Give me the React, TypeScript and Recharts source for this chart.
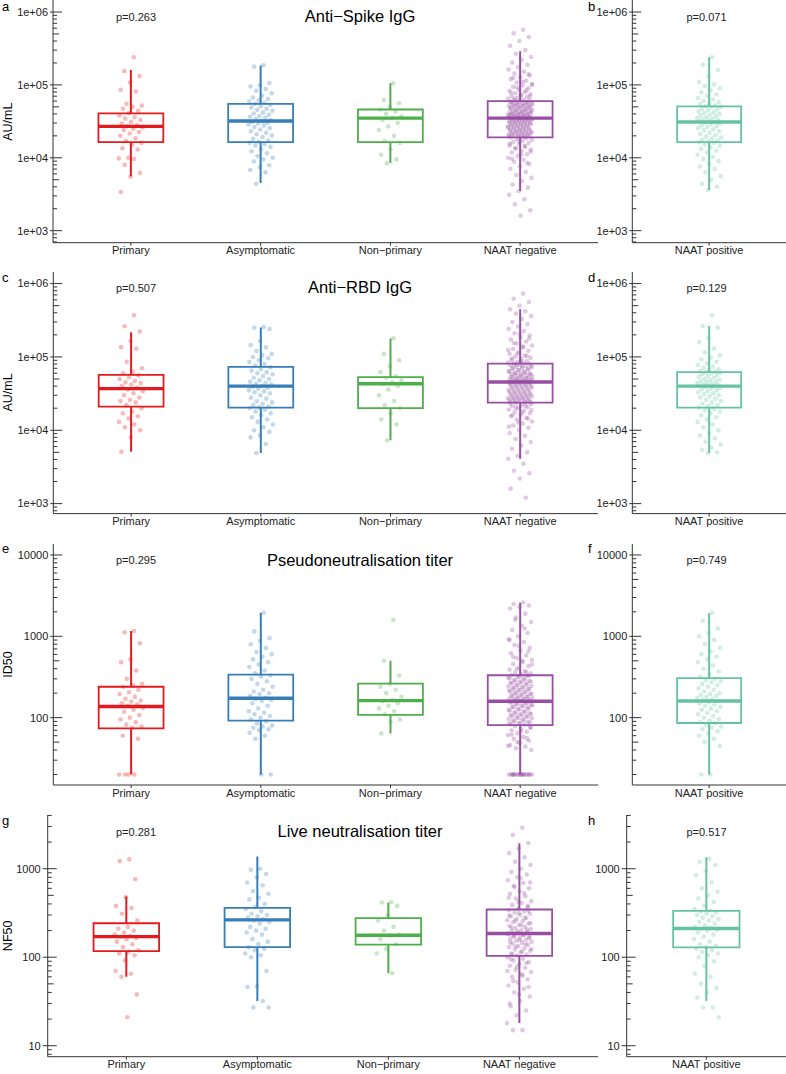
import React from "react";
import { ComposedChart, Line, Scatter, XAxis, YAxis } from "recharts";

const FONT = '"Liberation Sans", Arial, Helvetica, sans-serif';

const leftGroups = ["Primary", "Asymptomatic", "Non\u2212primary", "NAAT negative"];
const rightGroups = ["NAAT positive"];
const leftColors = ["#E41A1C", "#377EB8", "#4DAF4A", "#984EA3"];
const rightColors = ["#66C2A5"];

const titles = ["Anti\u2212Spike IgG", "Anti\u2212RBD IgG", "Pseudoneutralisation titer", "Live neutralisation titer"];
const yTitles = ["AU/mL", "AU/mL", "ID50", "NF50"];
const leftPValues = ["p=0.263", "p=0.507", "p=0.295", "p=0.281"];
const rightPValues = ["p=0.071", "p=0.129", "p=0.749", "p=0.517"];

// box stats per group: [lower whisker, Q1, median, Q3, upper whisker]
const spikeBoxes = [
  [5.6e3, 16.4e3, 27e3, 40.6e3, 160e3],
  [4.5e3, 16.4e3, 32e3, 55e3, 185e3],
  [8.5e3, 16.4e3, 35e3, 46e3, 105e3],
  [3.5e3, 19e3, 35e3, 60e3, 290e3],
];
const spikePosBoxes = [[3.6e3, 16.4e3, 31e3, 50.7e3, 240e3]];

const rbdBoxes = [
  [5.1e3, 21e3, 37e3, 57e3, 217e3],
  [4.9e3, 20.4e3, 40e3, 73e3, 251e3],
  [7.3e3, 20e3, 43e3, 53e3, 178e3],
  [4.1e3, 23.8e3, 45.6e3, 81e3, 447e3],
];
const rbdPosBoxes = [[4.9e3, 20.4e3, 40e3, 62e3, 265e3]];

const pseudoBoxes = [
  [20, 74, 137, 240, 1160],
  [20, 92, 173, 338, 1950],
  [64, 108, 162, 262, 502],
  [20, 81, 159, 332, 2594],
];
const pseudoPosBoxes = [[20, 86, 160, 307, 1918]];

const liveBoxes = [
  [60, 117, 171, 242, 485],
  [32, 130, 264, 361, 1372],
  [66, 139, 177, 276, 415],
  [18, 103.5, 185, 346, 1941],
];
const livePosBoxes = [[32, 129, 211, 334, 1349]];

// individual values (AU/mL, ID50, NF50)
const spikePrimary = [240e3, 155e3, 132e3, 108e3, 86e3, 81e3, 55e3, 52e3, 50e3, 47e3, 44e3, 41e3, 38e3, 36e3, 34.5e3, 33e3, 31e3, 29.5e3, 28e3, 27e3, 26e3, 25e3, 24e3, 22.5e3, 21.5e3, 20e3, 18.5e3, 17e3, 16e3, 15e3, 13.5e3, 13e3, 10e3, 9.8e3, 9.6e3, 8e3, 6.2e3, 5.5e3, 3.4e3];
const spikeAsym = [186e3, 178e3, 106e3, 99e3, 95e3, 88e3, 83e3, 77e3, 71e3, 67e3, 64e3, 61e3, 59e3, 57e3, 55e3, 53e3, 51e3, 49e3, 47e3, 45.5e3, 44e3, 42e3, 40.5e3, 39e3, 37.5e3, 36.5e3, 35.5e3, 34e3, 33e3, 32e3, 31e3, 30.3e3, 29.6e3, 28.7e3, 27.8e3, 26.5e3, 25.5e3, 24.4e3, 23.2e3, 22e3, 21e3, 20.2e3, 19.3e3, 18.2e3, 17.3e3, 16.6e3, 16e3, 15.3e3, 14.8e3, 14.1e3, 13.2e3, 12.3e3, 11.5e3, 10.6e3, 10e3, 9.5e3, 8.9e3, 7.9e3, 7.4e3, 6.8e3, 6.3e3, 4.4e3];
const spikeNonPrim = [105e3, 62e3, 56e3, 50e3, 46e3, 43e3, 40e3, 37e3, 35e3, 33e3, 30e3, 27e3, 24e3, 20e3, 17e3, 16e3, 13e3, 11e3, 9.5e3, 8.4e3];
const spikeNaatNeg = [
  570e3, 510e3, 455e3, 400e3, 345e3, 300e3, 268e3, 242e3, 221e3, 203e3, 188e3, 175e3, 163e3, 152e3, 143e3, 135e3, 127e3, 120e3, 114e3, 108e3, 103e3, 98e3, 94e3, 90e3, 86e3, 83e3, 80e3, 77e3, 74.5e3, 72e3, 70e3, 68e3, 66e3, 64.5e3, 63e3, 61.5e3, 60.5e3,
  59.5e3, 58.8e3, 58e3, 57e3, 56.2e3, 55.5e3, 54.5e3, 53.6e3, 53e3, 52e3, 51e3, 50.3e3, 49.5e3, 48.5e3, 47.5e3, 47e3, 46.5e3, 45.5e3, 44.5e3, 44e3, 43.5e3, 42.7e3, 42e3, 41.6e3, 41.2e3, 40.5e3, 39.8e3, 39.1e3, 38.5e3, 38.2e3, 37.9e3, 37.3e3, 36.8e3, 36.2e3, 35.9e3, 35.7e3, 35.2e3,
  34.7e3, 34.2e3, 33.6e3, 33e3, 32.5e3, 32e3, 31.4e3, 30.8e3, 30.2e3, 29.7e3, 29.1e3, 28.5e3, 28e3, 27.4e3, 26.9e3, 26.3e3, 25.8e3, 25.2e3, 24.7e3, 24.2e3, 23.7e3, 23.2e3, 22.7e3, 22.3e3, 21.8e3, 21.4e3, 21e3, 20.6e3, 20.2e3, 19.9e3, 19.6e3, 19.3e3, 19.1e3,
  18.6e3, 18.1e3, 17.5e3, 17e3, 16.4e3, 15.9e3, 15.3e3, 14.8e3, 14.2e3, 13.6e3, 13e3, 12.4e3, 11.8e3, 11.2e3, 10.6e3, 10e3, 9.4e3, 8.8e3, 8.2e3, 7.6e3, 7e3, 6.4e3, 5.8e3, 5.3e3, 4.8e3, 4.3e3, 3.9e3, 3.5e3, 3.1e3, 2.7e3, 2.3e3, 1.9e3, 1.6e3,
  58.2e3, 56.8e3, 55e3, 54e3, 52.6e3, 51.5e3, 50e3, 49e3, 48e3, 46e3, 45e3, 43e3, 42.3e3, 40.8e3, 40e3, 39.4e3, 38.8e3, 37.6e3, 37e3, 36.5e3, 35.5e3, 35e3, 34.5e3, 33.9e3, 33.3e3, 32.8e3, 32.2e3, 31.7e3, 31e3, 30.5e3, 29.9e3, 29.4e3, 28.8e3, 28.2e3, 27.7e3,
  27.1e3, 26.6e3, 26e3, 25.5e3, 25e3, 24.4e3, 23.9e3, 23.4e3, 22.9e3, 22.5e3, 22e3, 21.6e3, 21.2e3, 20.8e3, 20.4e3, 20e3, 19.5e3, 65e3, 69e3, 73e3, 78e3, 84e3, 92e3, 100e3, 110e3, 125e3, 140e3, 16.8e3, 15.6e3, 14.5e3, 13.3e3, 12.1e3, 11e3, 9.7e3, 8.5e3,
];
const spikeNaatPos = [
  240e3, 190e3, 160e3, 130e3, 110e3, 102e3, 96e3, 90e3, 84e3, 79e3, 74e3, 70e3, 66e3, 63e3, 60e3, 58e3, 56e3, 54e3, 52e3, 51e3,
  50e3, 49e3, 47e3, 46e3, 44.5e3, 43e3, 42e3, 41e3, 40e3, 39e3, 38e3, 37e3, 36e3, 35e3, 34.2e3, 33.5e3, 33e3, 32.3e3, 31.6e3, 31e3,
  30.4e3, 29.6e3, 29e3, 28e3, 27.2e3, 26.4e3, 25.5e3, 24.6e3, 23.8e3, 23e3, 22e3, 21.2e3, 20.4e3, 19.6e3, 19e3, 18.3e3, 17.8e3, 17.2e3, 16.8e3, 16.4e3,
  16e3, 15.3e3, 14.6e3, 14e3, 13.2e3, 12.5e3, 11.8e3, 11e3, 10.3e3, 9.6e3, 9e3, 8.3e3, 7.6e3, 7e3, 6.3e3, 5.6e3, 5e3, 4.4e3, 4e3, 3.6e3,
];

const rbdPrimary = [370e3, 262e3, 222e3, 165e3, 136e3, 130e3, 86e3, 70e3, 63e3, 60e3, 56e3, 53e3, 50e3, 47e3, 45e3, 44e3, 42e3, 40e3, 38e3, 36e3, 34e3, 32e3, 30e3, 28e3, 26e3, 25e3, 24e3, 22e3, 20e3, 18e3, 17e3, 15.5e3, 14.5e3, 13e3, 12e3, 11e3, 10e3, 8e3, 5.1e3];
const rbdAsym = [255e3, 250e3, 240e3, 165e3, 145e3, 135e3, 120e3, 110e3, 105e3, 100e3, 96e3, 90e3, 85e3, 80e3, 76e3, 72e3, 68e3, 65e3, 62e3, 60e3, 58e3, 55e3, 52e3, 50e3, 48e3, 46e3, 44e3, 43e3, 42e3, 40e3, 39e3, 38e3, 37e3, 35e3, 34e3, 33e3, 32e3, 30e3, 28e3, 27e3, 25e3, 24e3, 23e3, 22e3, 21e3, 20.5e3, 20e3, 19e3, 18e3, 17e3, 16e3, 15e3, 14e3, 13e3, 12e3, 11e3, 10e3, 9.5e3, 8.5e3, 8e3, 6.5e3, 4.9e3];
const rbdNonPrim = [180e3, 110e3, 90e3, 75e3, 62e3, 55e3, 52e3, 48e3, 45e3, 43e3, 40e3, 36e3, 30e3, 25e3, 22e3, 20e3, 17e3, 14e3, 12e3, 7.3e3];
const rbdNaatNeg = [
  730e3, 620e3, 560e3, 500e3, 447e3, 420e3, 390e3, 360e3, 330e3, 300e3, 280e3, 260e3, 240e3, 225e3, 210e3, 196e3, 184e3, 172e3, 162e3, 152e3, 143e3, 135e3, 128e3, 121e3, 115e3, 110e3, 105e3, 101e3, 97e3, 94e3, 91e3, 88e3, 86e3, 84e3, 82.5e3, 81e3,
  80e3, 78.5e3, 77e3, 75e3, 73.5e3, 72e3, 70e3, 68.5e3, 67e3, 65.5e3, 64e3, 62.5e3, 61e3, 60e3, 59e3, 58e3, 57e3, 56e3, 55e3, 54e3, 53e3, 52e3, 51e3, 50.3e3, 49.6e3, 49e3, 48.4e3, 47.8e3, 47.2e3, 46.7e3, 46.2e3, 45.8e3,
  45e3, 44e3, 43e3, 42e3, 41e3, 40e3, 39e3, 38e3, 37e3, 36e3, 35e3, 34e3, 33.2e3, 32.4e3, 31.6e3, 30.8e3, 30e3, 29.3e3, 28.6e3, 28e3, 27.4e3, 26.8e3, 26.2e3, 25.6e3, 25e3, 24.5e3, 24e3,
  23.3e3, 22.6e3, 22e3, 21.3e3, 20.6e3, 20e3, 19.2e3, 18.5e3, 17.8e3, 17e3, 16.3e3, 15.6e3, 14.8e3, 14e3, 13.2e3, 12.4e3, 11.6e3, 10.8e3, 10e3, 9.2e3, 8.4e3, 7.6e3, 6.9e3, 6.2e3, 5.6e3, 5e3, 4.5e3, 4.1e3, 3.5e3, 2.8e3, 2.6e3, 2.2e3, 1.6e3, 1.2e3,
  79e3, 76e3, 74e3, 71e3, 69e3, 66e3, 63e3, 61.5e3, 59.5e3, 57.5e3, 55.5e3, 53.5e3, 51.5e3, 50e3, 48.8e3, 47.5e3, 46.4e3, 45.4e3, 44.5e3, 43.5e3, 42.5e3, 41.5e3, 40.5e3, 39.5e3, 38.5e3, 37.5e3, 36.5e3, 35.5e3, 34.5e3, 33.6e3, 32.8e3,
  32e3, 31.2e3, 30.4e3, 29.6e3, 29e3, 28.3e3, 27.7e3, 27.1e3, 26.5e3, 25.9e3, 25.3e3, 24.8e3, 24.2e3, 88e3, 95e3, 103e3, 112e3, 124e3, 138e3, 155e3, 178e3, 205e3, 23e3, 21.6e3, 20.3e3, 18.9e3, 17.4e3, 16e3, 14.4e3, 12.8e3, 11.2e3,
];
const rbdNaatPos = [
  370e3, 265e3, 250e3, 180e3, 160e3, 130e3, 115e3, 105e3, 98e3, 92e3, 86e3, 82e3, 78e3, 74e3, 71e3, 68e3, 66e3, 64e3, 63e3, 62e3,
  61e3, 59.5e3, 58e3, 56.5e3, 55e3, 53.5e3, 52e3, 50.5e3, 49e3, 48e3, 47e3, 46e3, 45e3, 44e3, 43e3, 42.2e3, 41.5e3, 41e3, 40.5e3, 40e3,
  39e3, 38e3, 37e3, 36e3, 35e3, 34e3, 33e3, 32e3, 31e3, 30e3, 29e3, 28e3, 27e3, 26e3, 25e3, 24e3, 23e3, 22e3, 21.2e3, 20.4e3,
  19.6e3, 18.8e3, 18e3, 17e3, 16e3, 15e3, 14e3, 13e3, 12e3, 11e3, 10e3, 9.2e3, 8.5e3, 7.8e3, 7e3, 6.4e3, 5.8e3, 5.4e3, 5e3, 4.9e3,
];

const pseudoPrimary = [1160, 1120, 820, 520, 480, 380, 300, 260, 250, 240, 220, 205, 195, 180, 170, 162, 158, 150, 145, 140, 132, 125, 118, 108, 100, 95, 88, 82, 78, 75, 60, 55, 20, 20, 20, 20];
const pseudoAsym = [1950, 1150, 950, 880, 800, 720, 640, 600, 560, 520, 480, 450, 420, 380, 350, 330, 320, 300, 280, 260, 240, 220, 210, 200, 195, 185, 175, 170, 165, 160, 150, 140, 130, 120, 115, 110, 105, 100, 95, 90, 85, 80, 78, 75, 72, 70, 65, 60, 55, 20, 20];
const pseudoNonPrim = [1600, 500, 330, 260, 240, 220, 200, 180, 165, 160, 150, 140, 130, 120, 110, 95, 88, 64];
const pseudoNaatNeg = [
  2600, 2500, 2400, 2300, 2200, 1900, 1700, 1500, 1350, 1200, 1100, 1000, 920, 850, 780, 720, 670, 620, 580, 540, 510, 480, 455, 430, 410, 390, 375, 360, 350, 340, 335,
  330, 320, 310, 300, 290, 282, 275, 268, 260, 252, 245, 238, 232, 226, 220, 214, 208, 202, 197, 192, 187, 182, 178, 174, 170, 166, 163, 160,
  156, 152, 148, 144, 140, 136, 132, 128, 124, 120, 116, 113, 110, 107, 104, 101, 98, 95, 92, 89, 86, 84, 82,
  79, 76, 73, 70, 67, 64, 61, 58, 55, 52, 49, 46, 44, 42, 40, 20, 20, 20, 20, 20, 20, 20, 20, 20, 20, 20, 20, 20, 20, 20,
  325, 315, 305, 295, 285, 278, 271, 264, 256, 249, 242, 235, 229, 223, 217, 211, 205, 200, 195, 190, 185, 180, 176, 172, 168, 164, 161, 158, 154, 150, 146, 142, 138,
  134, 130, 126, 122, 118, 114, 111, 108, 105, 102, 99, 96, 93, 90, 87, 85, 83, 360, 400, 450, 500, 560, 650, 760, 900, 1250, 1600, 75, 68, 62, 56, 50, 45, 20, 20, 20, 20,
];
const pseudoNaatPos = [1950, 1550, 1250, 1100, 1000, 900, 800, 720, 650, 600, 560, 520, 480, 440, 400, 370, 340, 320, 300, 290, 280, 270, 260, 250, 240, 230, 220, 210, 200, 195, 190, 185, 180, 175, 170, 165, 160, 155, 150, 145, 140, 135, 130, 125, 120, 115, 110, 105, 100, 96, 92, 88, 85, 82, 78, 75, 72, 68, 64, 60, 55, 50, 45, 20, 20];

const livePrimary = [1280, 1220, 760, 480, 380, 360, 310, 260, 220, 210, 200, 190, 180, 175, 170, 165, 160, 150, 140, 130, 120, 115, 110, 105, 92, 70, 65, 60, 38, 21];
const liveAsym = [1000, 970, 870, 800, 700, 650, 560, 520, 470, 450, 400, 370, 350, 330, 310, 300, 290, 280, 270, 260, 250, 240, 220, 210, 200, 190, 180, 160, 150, 140, 130, 125, 120, 110, 105, 100, 70, 47, 46, 32, 27, 27];
const liveNonPrim = [420, 415, 380, 300, 260, 220, 200, 180, 175, 160, 140, 125, 110, 66];
const liveNaatNeg = [
  2900, 2400, 1950, 1700, 1500, 1350, 1200, 1100, 1000, 920, 860, 800, 740, 690, 640, 600, 560, 520, 490, 460, 430, 410, 390, 370, 355,
  340, 330, 320, 310, 300, 290, 280, 270, 262, 255, 248, 240, 233, 226, 220, 214, 208, 202, 197, 192, 188,
  182, 178, 174, 170, 166, 162, 158, 154, 150, 146, 142, 138, 134, 130, 126, 122, 118, 114, 110, 107, 104,
  100, 96, 92, 88, 84, 80, 76, 72, 68, 64, 60, 56, 52, 48, 44, 40, 36, 32, 28, 25, 22, 18, 15, 15,
  335, 315, 295, 276, 259, 244, 230, 217, 205, 195, 186, 180, 172, 164, 156, 148, 140, 132, 124, 116, 108, 380, 420, 470, 530, 620, 700, 780, 95, 86, 78, 70, 62, 54, 46, 38, 30,
];
const liveNaatPos = [1300, 1200, 1100, 950, 850, 700, 600, 550, 500, 460, 420, 380, 350, 340, 330, 320, 310, 300, 290, 280, 270, 260, 250, 240, 230, 220, 215, 210, 205, 200, 190, 180, 170, 160, 150, 140, 135, 130, 125, 120, 115, 110, 105, 100, 90, 80, 65, 60, 50, 45, 40, 35, 27, 27, 21];

const sci = (v: number) => `1e+${String(Math.round(Math.log10(v))).padStart(2, "0")}`;
const plain = (v: number) => String(v);

// horizontal spread of the points inside a group (golden-ratio sequence, in category units)
const jitter = (i: number) => ((((i + 1) * 0.6180339887) % 1) - 0.5) * 0.19;

function logTicks([min, max]: [number, number]) {
  const out: number[] = [];
  for (let e = Math.floor(Math.log10(min)); e <= Math.ceil(Math.log10(max)); e++) {
    for (let m = 1; m <= 9; m++) {
      const v = m * Math.pow(10, e);
      if (v >= min && v <= max) out.push(v);
    }
  }
  return out;
}

type PanelProps = {
  chartLeft: number;
  plotLeft: number;
  plotRight: number;
  plotTop: number;
  plotBottom: number;
  names: string[];
  colors: string[];
  boxes: number[][];
  points: number[][];
  domain: [number, number];
  fmt: (v: number) => string;
  gap: number;
  outer: number;
};

function Panel(p: PanelProps) {
  const mt = 6;
  const xh = 24;
  const width = p.plotRight - p.chartLeft;
  const height = p.plotBottom - p.plotTop + mt + xh;
  const n = p.names.length;
  const ticks = logTicks(p.domain);

  const renderTick = (props: any) => {
    const { x, y, payload } = props;
    const v = payload.value as number;
    const e = Math.floor(Math.log10(v) + 1e-9);
    const m = Math.round(v / Math.pow(10, e));
    const major = m === 1;
    const inner = major ? 9 : m === 5 ? 6 : 4;
    return (
      <g>
        <line x1={major ? x - p.outer : x} x2={x + inner} y1={y} y2={y} stroke="#333" strokeWidth={1} />
        {major && (
          <text x={x - p.gap} y={y} dy="0.35em" textAnchor="end" fontSize={11} fill="#222">
            {p.fmt(v)}
          </text>
        )}
      </g>
    );
  };

  return (
    <div style={{ position: "absolute", left: p.chartLeft, top: p.plotTop - mt }}>
      <ComposedChart width={width} height={height} margin={{ top: mt, right: 0, bottom: 0, left: 0 }}>
        <XAxis
          type="number"
          dataKey="x"
          domain={[0.4, n + 0.6]}
          allowDataOverflow
          ticks={p.names.map((_, i) => i + 1)}
          tickFormatter={(v: number) => p.names[Math.round(v) - 1] ?? ""}
          interval={0}
          height={xh}
          tickSize={3}
          tickMargin={1}
          stroke="#333"
          tick={{ fontSize: 11, fill: "#222" }}
        />
        <YAxis
          type="number"
          dataKey="y"
          scale="log"
          domain={p.domain}
          allowDataOverflow
          ticks={ticks}
          interval={0}
          width={p.plotLeft - p.chartLeft}
          tickSize={0}
          tickMargin={0}
          tickLine={false}
          stroke="#333"
          tick={renderTick}
        />
        {p.points.map((vals, gi) => (
          <Scatter
            key={`pts-${gi}`}
            data={vals.map((v, i) => ({ x: gi + 1 + jitter(i), y: v }))}
            dataKey="y"
            isAnimationActive={false}
            shape={(s: any) => <circle cx={s.cx} cy={s.cy} r={2.3} fill={p.colors[gi]} fillOpacity={0.3} />}
          />
        ))}
        {p.boxes.map(([lo, q1, md, q3, hi], gi) => {
          const c = gi + 1;
          const hw = 0.25;
          const rect = [
            { x: c - hw, y: q1 },
            { x: c + hw, y: q1 },
            { x: c + hw, y: q3 },
            { x: c - hw, y: q3 },
            { x: c - hw, y: q1 },
          ];
          const whisk = [
            { x: c, y: lo },
            { x: c, y: q1 },
            { x: c, y: null },
            { x: c, y: q3 },
            { x: c, y: hi },
          ];
          const med = [
            { x: c - hw, y: md },
            { x: c + hw, y: md },
          ];
          return [
            <Line key={`w-${gi}`} data={whisk} dataKey="y" stroke={p.colors[gi]} strokeWidth={2} dot={false} activeDot={false} isAnimationActive={false} />,
            <Line key={`b-${gi}`} data={rect} dataKey="y" stroke={p.colors[gi]} strokeWidth={1.8} strokeLinecap="square" dot={false} activeDot={false} isAnimationActive={false} />,
            <Line key={`m-${gi}`} data={med} dataKey="y" stroke={p.colors[gi]} strokeWidth={3.4} dot={false} activeDot={false} isAnimationActive={false} />,
          ];
        })}
      </ComposedChart>
    </div>
  );
}

const rows = [
  {
    top: 0.3, bottom: 243, axisL: 53, axisR: 632.3, domain: [Math.pow(10, 2.835), Math.pow(10, 6.165)] as [number, number], fmt: sci, gap: 5, outer: 3,
    boxes: spikeBoxes, posBoxes: spikePosBoxes, points: [spikePrimary, spikeAsym, spikeNonPrim, spikeNaatNeg], pos: [spikeNaatPos],
    letters: ["a", "b"], letterY: 11, titleY: 22, pY: 20.5, yTitleX: 12,
  },
  {
    top: 271.7, bottom: 513.3, axisL: 53.3, axisR: 632.3, domain: [Math.pow(10, 2.864), Math.pow(10, 6.158)] as [number, number], fmt: sci, gap: 5, outer: 3,
    boxes: rbdBoxes, posBoxes: rbdPosBoxes, points: [rbdPrimary, rbdAsym, rbdNonPrim, rbdNaatNeg], pos: [rbdNaatPos],
    letters: ["c", "d"], letterY: 282, titleY: 293, pY: 292, yTitleX: 12,
  },
  {
    top: 544, bottom: 785, axisL: 53.3, axisR: 632.3, domain: [Math.pow(10, 1.172), Math.pow(10, 4.135)] as [number, number], fmt: plain, gap: 5, outer: 3,
    boxes: pseudoBoxes, posBoxes: pseudoPosBoxes, points: [pseudoPrimary, pseudoAsym, pseudoNonPrim, pseudoNaatNeg], pos: [pseudoNaatPos],
    letters: ["e", "f"], letterY: 553, titleY: 565.5, pY: 564, yTitleX: 12,
  },
  {
    top: 815, bottom: 1056.7, axisL: 47.7, axisR: 626.7, domain: [Math.pow(10, 0.876), Math.pow(10, 3.607)] as [number, number], fmt: plain, gap: 7, outer: 5,
    boxes: liveBoxes, posBoxes: livePosBoxes, points: [livePrimary, liveAsym, liveNonPrim, liveNaatNeg], pos: [liveNaatPos],
    letters: ["g", "h"], letterY: 825, titleY: 836.5, pY: 835.7, yTitleX: 11.5,
  },
];

export default function App() {
  return (
    <div style={{ position: "relative", width: 786, height: 1074, overflow: "hidden", fontFamily: FONT, background: "#fff" }}>
      <style>{"body{margin:0}"}</style>
      {rows.map((r, ri) => (
        <React.Fragment key={ri}>
          <Panel
            chartLeft={0}
            plotLeft={r.axisL}
            plotRight={598}
            plotTop={r.top}
            plotBottom={r.bottom}
            names={leftGroups}
            colors={leftColors}
            boxes={r.boxes}
            points={r.points}
            domain={r.domain}
            fmt={r.fmt}
            gap={r.gap}
            outer={r.outer}
          />
          <Panel
            chartLeft={580}
            plotLeft={r.axisR}
            plotRight={786}
            plotTop={r.top}
            plotBottom={r.bottom}
            names={rightGroups}
            colors={rightColors}
            boxes={r.posBoxes}
            points={r.pos}
            domain={r.domain}
            fmt={r.fmt}
            gap={r.gap}
            outer={r.outer}
          />
        </React.Fragment>
      ))}
      <svg width={786} height={1074} style={{ position: "absolute", left: 0, top: 0, pointerEvents: "none" }}>
        {rows.map((r, ri) => (
          <g key={ri} fontFamily={FONT}>
            <text x={2} y={r.letterY} fontSize={13} fill="#000">{r.letters[0]}</text>
            <text x={588} y={r.letterY} fontSize={13} fill="#000">{r.letters[1]}</text>
            <text x={360} y={r.titleY} fontSize={16.5} textAnchor="middle" fill="#000">{titles[ri]}</text>
            <text x={136} y={r.pY} fontSize={11} textAnchor="middle" fill="#222">{leftPValues[ri]}</text>
            <text x={706.5} y={r.pY} fontSize={11} textAnchor="middle" fill="#222">{rightPValues[ri]}</text>
            <text
              transform={`translate(${r.yTitleX}, ${(r.top + r.bottom) / 2}) rotate(-90)`}
              fontSize={12.5}
              textAnchor="middle"
              fill="#000"
            >
              {yTitles[ri]}
            </text>
          </g>
        ))}
      </svg>
    </div>
  );
}
